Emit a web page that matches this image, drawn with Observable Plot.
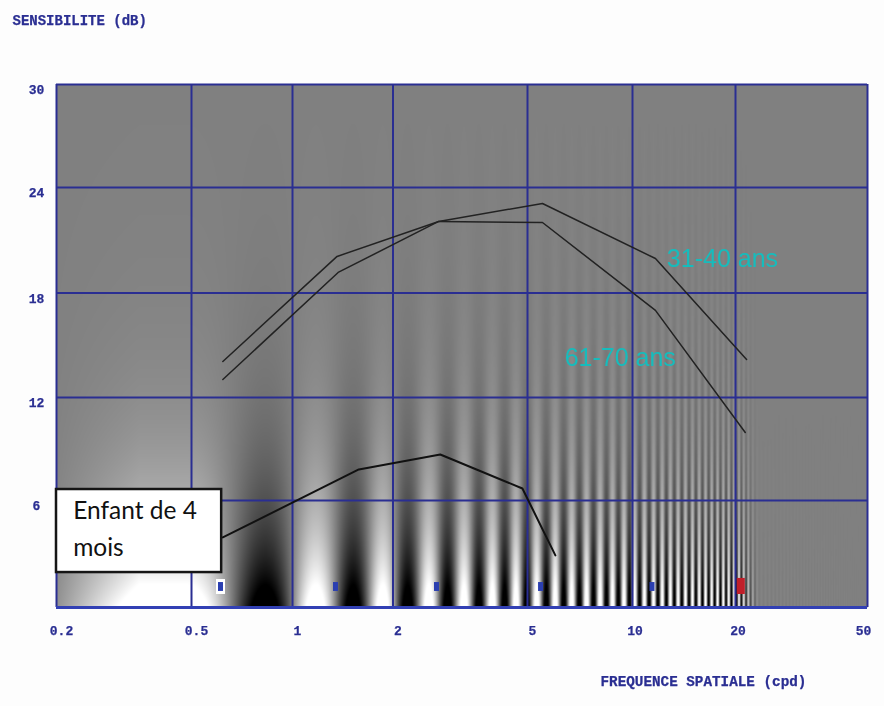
<!DOCTYPE html>
<html><head><meta charset="utf-8">
<script src="https://cdn.jsdelivr.net/npm/d3@7"></script>
<script src="https://cdn.jsdelivr.net/npm/@observablehq/plot@0.6"></script>
<style>html,body{margin:0;padding:0;background:#fdfdfd}svg{display:block;filter:blur(.45px)}</style>
</head><body><div id="c"></div><script>
const freqTicks=[0.2,0.5,1,2,5,10,20,50];
const freqPixels=[56,191,292,392.5,527,632,735,867];
const dbTicks=[0,6,12,18,24,30];
const dbPixels=[607,500,397,292.5,187,84];
const adult3140F=[0.62,1.36,2.73,5.52,11.67,21.6];
const adult3140S=[14.07,20.08,22.07,23.09,19.96,14.18];
const senior6170F=[0.62,1.37,2.73,5.52,11.67,21.4];
const senior6170S=[13.03,19.17,22.07,22.01,17.0,9.96];
const infantF=[0.62,1.58,2.76,4.83,6.01];
const infantS=[3.93,7.81,8.68,6.70,2.92];
const testF=[0.61,1.345,2.69,5.45,11.4];
const redF=[20.75];
const ink="#2a2e92";
const line=(f,s)=>f.map((x,i)=>({x,y:s[i]}));

// Background: contrast-sensitivity grating, gray value at (frequency, dB)
function grating(f,db){
  const amp=46*Math.exp(-(db-6.14)*.21);
  let s=-Math.cos(2*Math.PI*(f-.83)/.69);
  if(f<.35) s=.1+.9*Math.max(0,Math.log(f/.2)/Math.log(.35/.2));
  else if(f<.485) s=1;
  if(f>20.3) s*=Math.max(.03,1-Math.log(f/20.3)/Math.log(23.6/20.3));
  return Math.max(0,Math.min(255,128+amp*s));
}

const mono={fontFamily:"Liberation Mono",fontWeight:"bold",fill:ink,stroke:ink,strokeWidth:.25};
const xLabel=(ticks,dx)=>Plot.text(ticks,{x:d=>d,text:d=>String(d),frameAnchor:"bottom",dy:27,dx,...mono,fontSize:13});
const yLabel=(ticks,dy)=>Plot.text(ticks,{y:d=>d,text:d=>String(d),frameAnchor:"left",dx:-20,dy,textAnchor:"middle",...mono,fontSize:13});
const plot=Plot.plot({
  width:884,height:706,marginLeft:56,marginRight:17,marginTop:84,marginBottom:99,
  style:{background:"transparent"},
  x:{type:"log",domain:freqTicks,range:freqPixels,axis:null},
  y:{type:"linear",domain:dbTicks,range:dbPixels,axis:null},
  color:{type:"linear",domain:[0,255],range:["#000","#fff"]},
  marks:[
    Plot.raster({x1:0.2,x2:50,y1:30,y2:0,pixelSize:1,fill:grating,imageRendering:"auto"}),
    Plot.ruleX(freqTicks,{stroke:ink,strokeWidth:2}),
    Plot.ruleY(dbTicks,{stroke:ink,strokeWidth:2}),
    Plot.ruleY([0],{stroke:"#3240b4",strokeWidth:3}),
    Plot.ruleX(testF.slice(0,1),{y1:.73,y2:1.57,stroke:"#fff",strokeWidth:9}),
    Plot.ruleX(testF,{y1:.9,y2:1.4,stroke:"#2b3fb0",strokeWidth:5}),
    Plot.ruleX(redF,{y1:.73,y2:1.63,stroke:"#c01f2a",strokeWidth:8}),
    Plot.line(line(adult3140F,adult3140S),{x:"x",y:"y",stroke:"#222",strokeWidth:1.5}),
    Plot.line(line(senior6170F,senior6170S),{x:"x",y:"y",stroke:"#222",strokeWidth:1.5}),
    Plot.line(line(infantF,infantS),{x:"x",y:"y",stroke:"#111",strokeWidth:2}),
    Plot.rect([0],{x1:0.2,x2:0.615,y1:1.96,y2:6.64,fill:"#fff",stroke:"#151515",strokeWidth:2.5}),
    Plot.text(["Enfant de 4"],{x:[0.224],y:[5.38],textAnchor:"start",fontFamily:"Lato",fontSize:24.5,fill:"#111"}),
    Plot.text(["mois"],{x:[0.224],y:[3.31],textAnchor:"start",fontFamily:"Lato",fontSize:24.5,fill:"#111"}),
    Plot.text(["31-40 ans"],{x:[12.6],y:[19.96],textAnchor:"start",fontFamily:"Liberation Sans",fontSize:25,fill:"#16bcbc"}),
    Plot.text(["61-70 ans"],{x:[6.39],y:[14.24],textAnchor:"start",fontFamily:"Liberation Sans",fontSize:25,fill:"#16bcbc"}),
    xLabel(freqTicks.slice(0,5),5),
    xLabel(freqTicks.slice(5,7),2.5),
    xLabel(freqTicks.slice(7),-4),
    yLabel(dbTicks.slice(1),5.5),
    Plot.text(["SENSIBILITE (dB)"],{frameAnchor:"top-left",dx:-44,dy:-69,textAnchor:"start",...mono,fontSize:14}),
    Plot.text(["FREQUENCE SPATIALE (cpd)"],{frameAnchor:"bottom-left",dx:544,dy:78,textAnchor:"start",...mono,fontSize:14.3})
  ]
});
document.getElementById("c").append(plot);
</script></body></html>
